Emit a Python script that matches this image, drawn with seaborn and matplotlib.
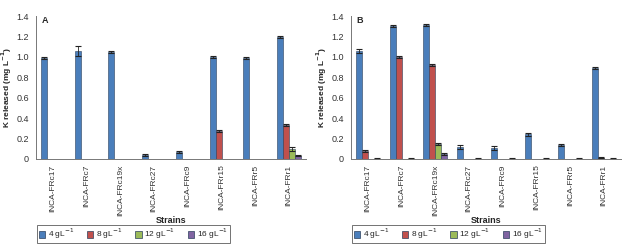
import numpy as np
import pandas as pd
import matplotlib
matplotlib.use('Agg')
import matplotlib.pyplot as plt
import seaborn as sns

strains = ['INCA-FRc17', 'INCA-FRc7', 'INCA-FRc19x', 'INCA-FRc27',
           'INCA-FRc9', 'INCA-FRr15', 'INCA-FRr5', 'INCA-FRr1']
doses = ['4 gL$^{-1}$', '8 gL$^{-1}$', '12 gL$^{-1}$', '16 gL$^{-1}$']
colors = ['#4a7ebb', '#c0504d', '#9bbb59', '#8064a2']

# panel A, one list per dose
a_4 = [0.99, 1.06, 1.05, 0.04, 0.07, 1.00, 0.99, 1.19]
a_8 = [0, 0, 0, 0, 0, 0.27, 0, 0.33]
a_12 = [0, 0, 0, 0, 0, 0, 0, 0.10]
a_16 = [0, 0, 0, 0, 0, 0, 0, 0.03]
a_4_err = [0.01, 0.05, 0.01, 0.01, 0.01, 0.01, 0.01, 0.01]
a_8_err = [0, 0, 0, 0, 0, 0.01, 0, 0.01]
a_12_err = [0, 0, 0, 0, 0, 0, 0, 0.02]
a_16_err = [0, 0, 0, 0, 0, 0, 0, 0.005]

# panel B
b_4 = [1.06, 1.30, 1.31, 0.12, 0.11, 0.24, 0.14, 0.89]
b_8 = [0.08, 1.00, 0.92, 0, 0, 0, 0, 0.01]
b_12 = [0, 0, 0.15, 0, 0, 0, 0, 0]
b_16 = [0.003, 0.003, 0.05, 0.003, 0.003, 0.003, 0.003, 0.003]
b_4_err = [0.02, 0.01, 0.01, 0.02, 0.02, 0.01, 0.01, 0.01]
b_8_err = [0.01, 0.01, 0.01, 0, 0, 0, 0, 0.005]
b_12_err = [0, 0, 0.01, 0, 0, 0, 0, 0]
b_16_err = [0.002, 0.002, 0.01, 0.002, 0.002, 0.002, 0.002, 0.002]


def make_df(vals, errs):
    rows = []
    for d, v, e in zip(doses, vals, errs):
        for s, x, ee in zip(strains, v, e):
            rows.append({'Strain': s, 'Dose': d, 'K': x, 'err': ee})
    return pd.DataFrame(rows)


df_a = make_df([a_4, a_8, a_12, a_16], [a_4_err, a_8_err, a_12_err, a_16_err])
df_b = make_df([b_4, b_8, b_12, b_16], [b_4_err, b_8_err, b_12_err, b_16_err])

sns.set_style('white')
plt.rcParams['font.family'] = ['Liberation Sans Narrow', 'Liberation Sans', 'DejaVu Sans']

fig = plt.figure(figsize=(6.24, 2.46), dpi=100)
ax_a = fig.add_axes([36 / 624, 1 - 159 / 246, 270 / 624, 143 / 246])
ax_b = fig.add_axes([351 / 624, 1 - 159 / 246, 270 / 624, 143 / 246])

for ax, df, tag in [(ax_a, df_a, 'A'), (ax_b, df_b, 'B')]:
    sns.barplot(data=df, x='Strain', y='K', hue='Dose', palette=colors,
                width=0.71, errorbar=None, ax=ax, edgecolor='#2b3f5c',
                linewidth=0.4, saturation=1)
    # error bars placed on the bar patches (same order as df)
    bars = ax.patches[:len(df)]
    for p, (_, row) in zip(bars, df.iterrows()):
        if row['err'] > 0:
            ax.errorbar(p.get_x() + p.get_width() / 2, row['K'], yerr=row['err'],
                        fmt='none', ecolor='#222222', elinewidth=0.6,
                        capsize=2, capthick=0.8)
    ax.set_ylim(0, 1.4)
    ax.set_xlim(-0.5, 7.5)
    ax.set_yticks(np.arange(0, 1.41, 0.2))
    ax.set_yticklabels(['0'] + ['%.1f' % v for v in np.arange(0.2, 1.41, 0.2)],
                       fontsize=6.5, color='#333333')
    ax.set_xticks(range(len(strains)))
    ax.set_xticklabels(strains, rotation=90, fontsize=6, color='#333333')
    ax.set_xticks(np.arange(-0.5, 8, 1), minor=True)
    ax.tick_params(axis='x', which='major', length=0, pad=4)
    ax.tick_params(axis='x', which='minor', length=3, color='#666666', width=0.6)
    ax.tick_params(axis='y', length=3, color='#666666', width=0.6, pad=2)
    for s in ['top', 'right']:
        ax.spines[s].set_visible(False)
    for s in ['left', 'bottom']:
        ax.spines[s].set_color('#777777')
        ax.spines[s].set_linewidth(0.7)
    ax.set_xlabel('Strains', fontsize=6.5, fontweight='bold')
    ax.xaxis.set_label_coords(0.5, -0.40)
    ax.set_ylabel('K released (mg L$^{\\mathbf{-1}}$)', fontsize=6,
                  fontweight='bold')
    ax.yaxis.set_label_coords(-0.083, 0.5)
    ax.text(0.02, 1.0, tag, transform=ax.transAxes, fontsize=6.5,
            fontweight='bold', va='top', ha='left')
    ax.get_legend().remove()
    handles = [plt.Rectangle((0, 0), 1, 1, facecolor=c, edgecolor='#2b3f5c',
                             linewidth=0.5) for c in colors]
    x0 = (37 if tag == 'A' else 352) / 624
    ax.legend(handles, doses, loc='lower left', ncol=4,
              bbox_to_anchor=(x0, 3 / 246), bbox_transform=fig.transFigure,
              frameon=True, fancybox=False, edgecolor='#333333', fontsize=6,
              handlelength=0.8, handleheight=0.8, handletextpad=0.3,
              columnspacing=1.5, borderpad=0.2, borderaxespad=0)
    ax.get_legend().get_frame().set_linewidth(0.6)

fig.savefig('out.png', dpi=100)
